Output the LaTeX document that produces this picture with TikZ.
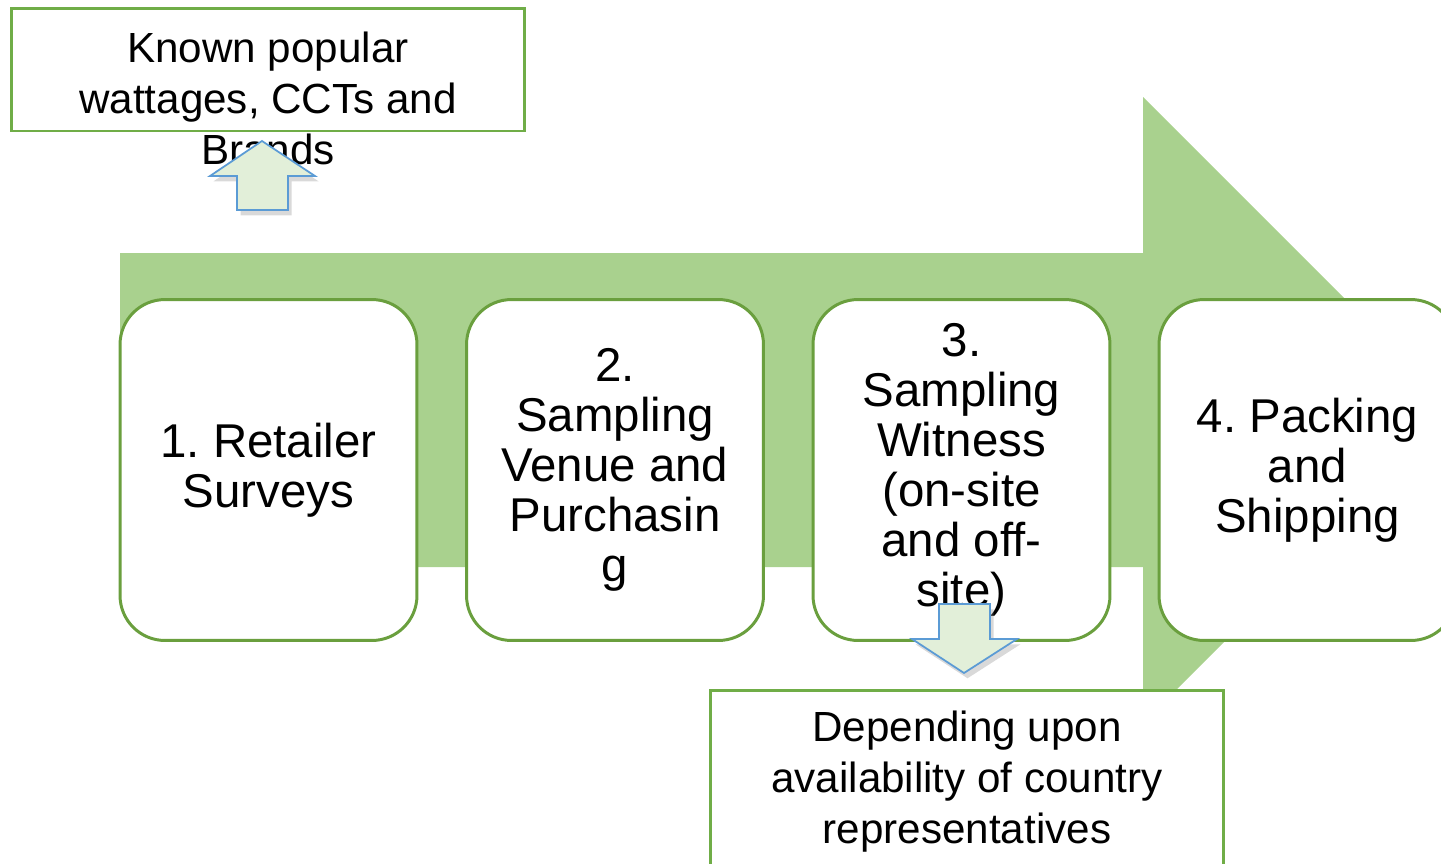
\documentclass[tikz,border=0pt]{standalone}
\usepackage{fontspec}
\setmainfont{Liberation Sans}
\usepackage{xcolor}
\usetikzlibrary{positioning,calc,shadows}
\frenchspacing

\definecolor{arrowgreen}{HTML}{A9D18E}
\definecolor{boxgreen}{HTML}{6A9F3E}
\definecolor{notegreen}{HTML}{70AD47}
\definecolor{tipfill}{HTML}{E2EFD9}
\definecolor{tipblue}{HTML}{5B9BD5}

\begin{document}
\begin{tikzpicture}[x=0.02cm, y=-0.02cm]
  \tikzstyle{stage}=[rectangle, rounded corners=0.9cm, draw=boxgreen, line width=1.7pt, fill=white, minimum width=5.94cm, minimum height=6.82cm, align=center, font=\fontsize{27}{28.5}\selectfont]
  \tikzstyle{note}=[rectangle, draw=notegreen, line width=1.7pt, fill=white, minimum width=10.28cm, minimum height=2.46cm]
  \tikzstyle{notetext}=[align=center, font=\fontsize{24}{29}\selectfont]
  \tikzstyle{pointer}=[draw=tipblue, line width=1pt, fill=tipfill, drop shadow={opacity=0.3, shadow xshift=2pt, shadow yshift=-3pt}]

  \clip (0,0) rectangle (1441,863);
  \useasboundingbox (0,0) rectangle (1441,863);

  % big process arrow
  \fill[arrowgreen] (120,253) -- (1143,253) -- (1143,97) -- (1456,410) -- (1143,723) -- (1143,567) -- (120,567) -- cycle;

  % stages
  \node[stage] (s1) at (268.5,470) {1. Retailer\\Surveys};
  \node[stage] (s2) at (615,470) {2.\\Sampling\\Venue and\\Purchasin\\g};
  \node[stage] (s3) at (961.5,470) {3.\\Sampling\\Witness\\(on-site\\and off-\\site)};
  \node[stage] (s4) at (1307.5,470) {4. Packing\\and\\Shipping};

  % note on top
  \node[note] (known) at (268,69.5) {};
  \node[notetext] (knowntext) at (268,98) {Known popular\\wattages, CCTs and\\Brands};
  \path[pointer] (237,210) -- (237,176) -- (210,176) -- (262,141) -- (315,176) -- (288,176) -- (288,210) -- cycle;

  % note below
  \node[note, minimum height=4.2cm] (depend) at (967,795) {};
  \node[notetext] (dependtext) at (967,782) {Depending upon\\availability of country\\representatives};
  \path[pointer] (939,604) -- (990,604) -- (990,639) -- (1017,639) -- (964,673) -- (912,639) -- (939,639) -- cycle;
\end{tikzpicture}
\end{document}
